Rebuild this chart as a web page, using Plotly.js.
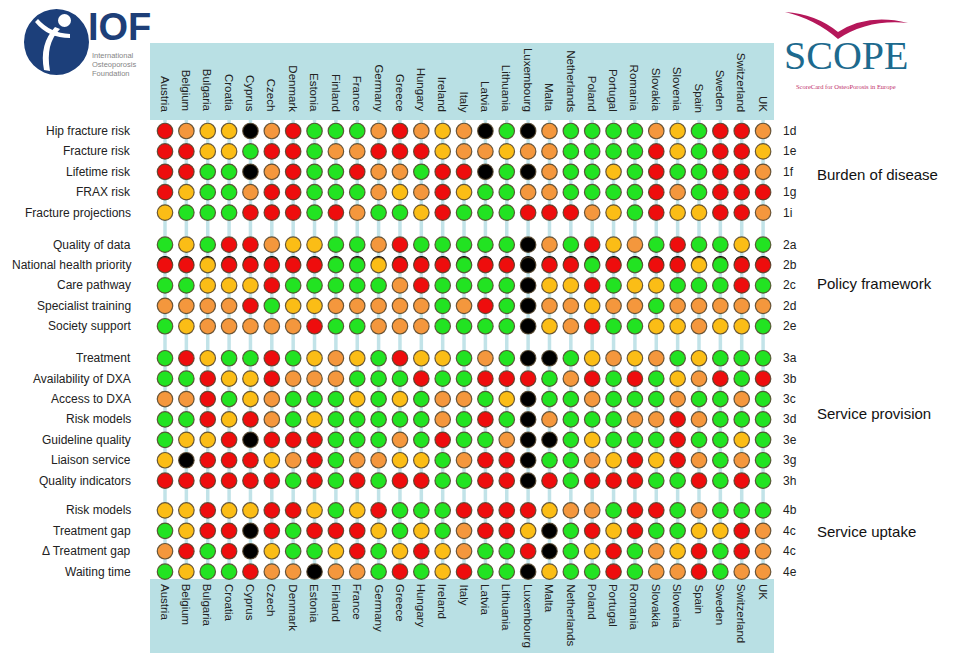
<!DOCTYPE html>
<html><head><meta charset="utf-8">
<script src="https://cdn.plot.ly/plotly-3.0.1.min.js"></script>
<style>html,body{margin:0;padding:0;background:#fff}#chart{width:965px;height:653px}</style>
</head><body><div id="chart"></div>
<script>
// ---------------- DATA ----------------
const countries = ['Austria','Belgium','Bulgaria','Croatia','Cyprus','Czech','Denmark','Estonia','Finland','France','Germany','Greece','Hungary','Ireland','Italy','Latvia','Lithuania','Luxembourg','Malta','Netherlands','Poland','Portugal','Romania','Slovakia','Slovenia','Spain','Sweden','Switzerland','UK'];
const indicators = ['Hip fracture risk','Fracture risk','Lifetime risk','FRAX risk','Fracture projections','Quality of data','National health priority','Care pathway','Specialist training','Society support','Treatment','Availability of DXA','Access to DXA','Risk models','Guideline quality','Liaison service','Quality indicators','Risk models','Treatment gap','\u0394 Treatment gap','Waiting time'];
const codes = ['1d','1e','1f','1g','1i','2a','2b','2c','2d','2e','3a','3b','3c','3d','3e','3g','3h','4b','4c','4c','4e'];
const domainOf = [0,0,0,0,0,1,1,1,1,1,2,2,2,2,2,2,2,3,3,3,3];
const domains = ['Burden of disease','Policy framework','Service provision','Service uptake'];
// one letter per country: R red, O orange, Y amber, G green, K black
const ratings = [
 'ROYYKORGGGOROYOKGKOGGGGOYGRRO',
 'RRYYGRRGOORRRYOOYOOGGGGRYGRRY',
 'RRGGKORGGROOGRRKGKOGGYGRGGRRO',
 'RYGGORRGGGOYORYGGOOGGGGROGRRR',
 'YGGGRRRGROGGYRGGGRRROYGRYYRRO',
 'GYGRROYYGGORGGGGGKOGRYOGRGGYG',
 'RRYRRRRRGGYRRRGRRKRRGRGRRYGRR',
 'GGYYYRGGGGGORGGGGKYYRGYYGGGRG',
 'OOOORGYYOOOOOGORGKOOYOOGOOOOO',
 'GYOOOOORGGOOOGGGGKYORGGYYOYYG',
 'GRYGGRGYOYGRYYGOGKKGYOYOGYGGG',
 'GGRYYROOOGGGRGGRRRGORGRGYORGR',
 'OORGYOGGGYGYGOOGYKGGOGGGOGGOG',
 'GGRYROGYGGGGGOGRGKOGGGOOROGGG',
 'GYYRKRRRGGGOGRGGOKKGYGGGRGGYG',
 'YKRRRYORGOOYYGORRKGGOYRYROGOG',
 'RRRRRRGRGRGRRGGRRKRGRRRGGRGRG',
 'YYRYYRRYGYRGGGRRRRYOOGRRGOGGG',
 'GYRRKRGRRRYGYGORRYKGRYRGGYYRO',
 'ORGRKYGGYRGYRYOGGRKGYRGOYRGRO',
 'GYGGROOKOOGRGYRGGKYGGRGOORGOO'
];

// ---------------- STYLE / LAYOUT ----------------
const colorMap = {R:'#ee0d0d', O:'#f4973d', Y:'#fbbd16', G:'#22e322', K:'#000000'};
const groupOffset = [0, 0.57, 1.14, 1.6];
const FONT = 'Liberation Sans, Arial, sans-serif';

const xs=[], ys=[], cs=[];
const capX=[], capY=[];
ratings.forEach((r,k)=>{
  for(let i=0;i<countries.length;i++){
    const y = k + groupOffset[domainOf[k]];
    xs.push(countries[i]); ys.push(y); cs.push(colorMap[r[i]]);
    if(indicators[k]==='National health priority'){ capX.push(countries[i]); capY.push(y-0.08); }
  }
});

const traces = [
  {type:'scatter', mode:'markers', x:capX, y:capY, hoverinfo:'skip',
   marker:{size:15, color:'#000', line:{width:0}}},
  {type:'scatter', mode:'markers', x:xs, y:ys, hoverinfo:'skip',
   marker:{size:15.5, color:cs, line:{width:1.2, color:'rgba(80,65,40,0.85)'}}},
  {type:'scatter', mode:'markers', x:[0], y:[0], xaxis:'x2', yaxis:'y2', hoverinfo:'skip',
   marker:{opacity:0}}
];

const shapes = [];
const annotations = [];
const boxColor = '#b9e0e4';
// header & footer boxes
shapes.push({type:'rect', xref:'x2', yref:'y2', x0:150, x1:774, y0:43, y1:120, fillcolor:boxColor, line:{width:0}, layer:'below'});
shapes.push({type:'rect', xref:'x2', yref:'y2', x0:150, x1:774, y0:579, y1:653, fillcolor:boxColor, line:{width:0}, layer:'below'});
// column lines + country labels
countries.forEach((c,i)=>{
  shapes.push({type:'line', xref:'x', yref:'paper', x0:i, x1:i, y0:1-120/653, y1:1-579/653,
    line:{color:'#c2e3e8', width:3.5}, layer:'below'});
  annotations.push({xref:'x', yref:'y2', x:i, y:114, text:c, textangle:90, showarrow:false,
    xanchor:'center', yanchor:'bottom', font:{family:FONT, size:11.5, color:'#222'}});
  annotations.push({xref:'x', yref:'y2', x:i, y:582, text:c, textangle:90, showarrow:false,
    xanchor:'center', yanchor:'top', font:{family:FONT, size:11.5, color:'#222'}});
});
// row labels and codes
indicators.forEach((lab,k)=>{
  const y = k + groupOffset[domainOf[k]];
  annotations.push({xref:'x2', yref:'y', x:133, y:y, text:lab, showarrow:false, xanchor:'right', yanchor:'middle',
    font:{family:FONT, size:12, color:'#222'}});
  annotations.push({xref:'x2', yref:'y', x:781, y:y, text:codes[k], showarrow:false, xanchor:'left', yanchor:'middle',
    font:{family:FONT, size:12, color:'#222'}});
});
// domain labels
const domainY = [174, 283, 413, 531];
domains.forEach((d,g)=>{
  annotations.push({xref:'x2', yref:'y2', x:815, y:domainY[g], text:d, showarrow:false, xanchor:'left', yanchor:'middle',
    font:{family:FONT, size:15, color:'#111'}});
});

// IOF logo
shapes.push({type:'circle', xref:'x2', yref:'y2', x0:24, x1:89, y0:9, y1:75, fillcolor:'#1c3f7a', line:{width:0}, layer:'below'});
shapes.push({type:'circle', xref:'x2', yref:'y2', x0:58, x1:71, y0:14, y1:27, fillcolor:'#ffffff', line:{width:0}, layer:'below'});
shapes.push({type:'path', xref:'x2', yref:'y2', path:'M 60 29 Q 45 44 50 71 L 44 70 Q 39 44 55 27 Z', fillcolor:'#ffffff', line:{width:0}, layer:'below'});
shapes.push({type:'path', xref:'x2', yref:'y2', path:'M 38 19 Q 50 33 70 34 L 70 38 Q 48 38 35 22 Z', fillcolor:'#ffffff', line:{width:0}, layer:'below'});
annotations.push({xref:'x2', yref:'y2', x:86, y:50, text:'<b>IOF</b>', showarrow:false, xanchor:'left', yanchor:'bottom',
  font:{family:FONT, size:38, color:'#1e3f78'}});
['International','Osteoporosis','Foundation'].forEach((t,j)=>{
  annotations.push({xref:'x2', yref:'y2', x:90, y:55+9*j, text:t, showarrow:false, xanchor:'left', yanchor:'middle',
    font:{family:FONT, size:7.5, color:'#858585'}});
});

// SCOPE logo
shapes.push({type:'path', xref:'x2', yref:'y2', path:'M 785 12 Q 816 14 838 32 Q 868 13 908 23 Q 868 19 838 39 Q 815 19 785 12 Z',
  fillcolor:'#b5175a', line:{width:0}, layer:'below'});
annotations.push({xref:'x2', yref:'y2', x:846, y:80, text:'SCOPE', showarrow:false, xanchor:'center', yanchor:'bottom',
  font:{family:'Liberation Serif, Times New Roman, serif', size:40, color:'#1d6a8e'}});
annotations.push({xref:'x2', yref:'y2', x:846, y:86, text:'ScoreCard for OsteoPorosis in Europe', showarrow:false, xanchor:'center', yanchor:'middle',
  font:{family:'Liberation Serif, Times New Roman, serif', size:6.5, color:'#c0306a'}});

const layout = {
  width:965, height:653, margin:{l:0,r:0,t:0,b:0},
  paper_bgcolor:'#ffffff', plot_bgcolor:'rgba(0,0,0,0)', showlegend:false,
  xaxis:{type:'category', categoryorder:'array', categoryarray:countries, range:[-7.725,37.453], visible:false, fixedrange:true},
  yaxis:{range:[25.588,-6.4216], visible:false, fixedrange:true},
  xaxis2:{overlaying:'x', range:[0,965], visible:false, fixedrange:true},
  yaxis2:{overlaying:'y', range:[653,0], visible:false, fixedrange:true},
  shapes:shapes, annotations:annotations
};
Plotly.newPlot('chart', traces, layout, {displayModeBar:false, staticPlot:true});
</script>
</body></html>
